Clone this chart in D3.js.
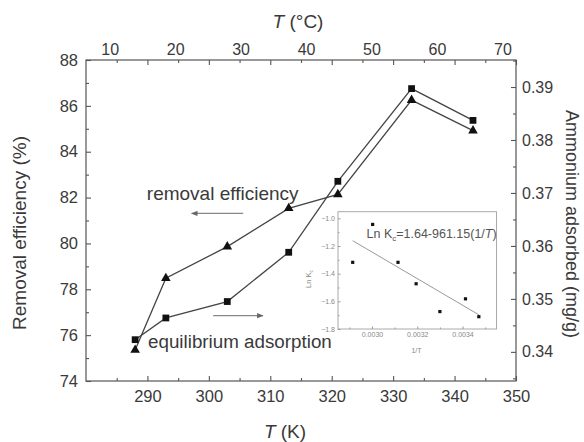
<!DOCTYPE html>
<html>
<head>
<meta charset="utf-8">
<script src="https://cdn.jsdelivr.net/npm/d3@7"></script>
<style>
  body { margin: 0; background: #fff; }
  text { font-family: Arial, "Liberation Sans", sans-serif; }
</style>
</head>
<body>
<svg id="chart" width="584" height="442"></svg>
<script>
// data
const tempK = [288, 293, 303, 313, 321, 333, 343];
const removal = [75.35, 78.48, 79.86, 81.53, 82.14, 86.25, 84.92];
const adsorbed = [0.3423, 0.3464, 0.3495, 0.3588, 0.3722, 0.3897, 0.3837];

// inset: van't Hoff plot
const invT = [0.003472, 0.003413, 0.0033, 0.003195, 0.003115, 0.003003, 0.002915];
const lnKc = [-1.711, -1.582, -1.674, -1.473, -1.318, -1.044, -1.318];
const fitCoef = [1.64, -961.15]; // Ln Kc = a + b (1/T)

const kTicks = [290, 300, 310, 320, 330, 340, 350];
const cTicks = [10, 20, 30, 40, 50, 60, 70];
const leftTicks = [74, 76, 78, 80, 82, 84, 86, 88];
const rightTicks = [0.34, 0.35, 0.36, 0.37, 0.38, 0.39];
const insetXTicks = [0.0030, 0.0032, 0.0034];
const insetYTicks = [-1.0, -1.2, -1.4, -1.6, -1.8];

const svg = d3.select("#chart");
const L = 86, R = 516, T = 60, B = 381;
const ink = "#3a3a3a";

const x = d3.scaleLinear().domain([280, 350]).range([L, R]);
const xC = d3.scaleLinear().domain([6.3, 72]).range([L, R]); // top labels sit off the kelvin ticks
const yL = d3.scaleLinear().domain([74, 88]).range([B, T]);
const yR = d3.scaleLinear().domain([0.3345, 0.3951]).range([B, T]);

function styleAxis(g, size) {
  g.select(".domain").remove();
  g.selectAll("line").attr("stroke", "#555").attr("stroke-width", 1.1);
  g.selectAll("text").attr("fill", ink).style("font-size", size + "px");
}

// bottom
svg.append("g").attr("transform", `translate(0,${B})`)
  .call(d3.axisBottom(x).tickValues(kTicks).tickSize(-5).tickPadding(9.5))
  .call(g => styleAxis(g, 16.5));
svg.append("g").attr("transform", `translate(0,${B})`)
  .call(d3.axisBottom(x).tickValues(d3.range(285, 350, 10)).tickSize(-3).tickFormat(""))
  .call(g => styleAxis(g, 16));

// top
svg.append("g").attr("transform", `translate(0,${T})`)
  .call(d3.axisTop(x).tickValues(kTicks).tickSize(-5).tickFormat(""))
  .call(g => styleAxis(g, 16));
svg.append("g").attr("transform", `translate(0,${T})`)
  .call(d3.axisTop(x).tickValues(d3.range(285, 350, 10)).tickSize(-3).tickFormat(""))
  .call(g => styleAxis(g, 16));
svg.append("g").selectAll("text").data(cTicks).join("text")
  .attr("x", d => xC(d)).attr("y", T - 5)
  .attr("text-anchor", "middle").attr("fill", ink)
  .style("font-size", "16px").text(d => d);

// left
svg.append("g").attr("transform", `translate(${L},0)`)
  .call(d3.axisLeft(yL).tickValues(leftTicks).tickSize(-5).tickPadding(8))
  .call(g => styleAxis(g, 16.5));
svg.append("g").attr("transform", `translate(${L},0)`)
  .call(d3.axisLeft(yL).tickValues(d3.range(75, 88, 2)).tickSize(-3).tickFormat(""))
  .call(g => styleAxis(g, 16));

// right
svg.append("g").attr("transform", `translate(${R},0)`)
  .call(d3.axisRight(yR).tickValues(rightTicks).tickSize(-5).tickPadding(6).tickFormat(d3.format(".2f")))
  .call(g => styleAxis(g, 16));
svg.append("g").attr("transform", `translate(${R},0)`)
  .call(d3.axisRight(yR).tickValues([0.335, 0.345, 0.355, 0.365, 0.375, 0.385, 0.395]).tickSize(-3).tickFormat(""))
  .call(g => styleAxis(g, 16));

// frame
svg.append("rect").attr("x", L).attr("y", T).attr("width", R - L).attr("height", B - T)
  .attr("fill", "none").attr("stroke", "#555").attr("stroke-width", 1.2);

// axis titles
const tTop = svg.append("text").attr("x", 298).attr("y", 28).attr("text-anchor", "middle")
  .attr("fill", ink).style("font-size", "19px");
tTop.append("tspan").attr("font-style", "italic").text("T");
tTop.append("tspan").text(" (°C)");

const tBot = svg.append("text").attr("x", 285).attr("y", 438).attr("text-anchor", "middle")
  .attr("fill", ink).style("font-size", "19px");
tBot.append("tspan").attr("font-style", "italic").text("T");
tBot.append("tspan").text(" (K)");

svg.append("text").attr("transform", "translate(26,233) rotate(-90)")
  .attr("text-anchor", "middle").attr("fill", ink).style("font-size", "19px")
  .text("Removal efficiency (%)");
svg.append("text").attr("transform", "translate(566,224) rotate(90)")
  .attr("text-anchor", "middle").attr("fill", ink).style("font-size", "18px")
  .text("Ammonium adsorbed (mg/g)");

// series
const pts = tempK.map((t, i) => ({ t, r: removal[i], a: adsorbed[i] }));
svg.append("path").datum(pts)
  .attr("d", d3.line().x(d => x(d.t)).y(d => yL(d.r)))
  .attr("fill", "none").attr("stroke", "#444").attr("stroke-width", 1.3);
svg.append("path").datum(pts)
  .attr("d", d3.line().x(d => x(d.t)).y(d => yR(d.a)))
  .attr("fill", "none").attr("stroke", "#444").attr("stroke-width", 1.3);

svg.append("g").selectAll("path").data(pts).join("path")
  .attr("transform", d => `translate(${x(d.t)},${yL(d.r)})`)
  .attr("d", d3.symbol(d3.symbolTriangle, 40)).attr("fill", "#111");
svg.append("g").selectAll("path").data(pts).join("path")
  .attr("transform", d => `translate(${x(d.t)},${yR(d.a)})`)
  .attr("d", d3.symbol(d3.symbolSquare, 46)).attr("fill", "#111");

// annotations
const defs = svg.append("defs");
defs.append("marker").attr("id", "head").attr("viewBox", "0 0 10 10")
  .attr("refX", 9).attr("refY", 5).attr("markerWidth", 7).attr("markerHeight", 5)
  .attr("orient", "auto-start-reverse")
  .append("path").attr("d", "M0,1 L10,5 L0,9 Z").attr("fill", "#666");

svg.append("text").attr("x", x(289.9)).attr("y", yL(81.9)).attr("fill", ink)
  .style("font-size", "19px").text("removal efficiency");
svg.append("line").attr("x1", x(305.6)).attr("x2", x(297.2))
  .attr("y1", yL(81.31)).attr("y2", yL(81.31))
  .attr("stroke", "#888").attr("stroke-width", 1.3).attr("marker-end", "url(#head)");

svg.append("text").attr("x", x(290.1)).attr("y", yL(75.42)).attr("fill", ink)
  .style("font-size", "18.8px").text("equilibrium adsorption");
svg.append("line").attr("x1", x(300.7)).attr("x2", x(308.8))
  .attr("y1", yL(76.85)).attr("y2", yL(76.85))
  .attr("stroke", "#888").attr("stroke-width", 1.3).attr("marker-end", "url(#head)");

// inset
const iL = 338, iR = 496.5, iT = 211.7, iB = 329;
const xi = d3.scaleLinear().domain([0.00285, 0.00355]).range([iL, iR]);
const yi = d3.scaleLinear().domain([-1.8, -0.952]).range([iB, iT]);
const inset = svg.append("g");
inset.append("rect").attr("x", iL).attr("y", iT).attr("width", iR - iL).attr("height", iB - iT)
  .attr("fill", "#fff").attr("stroke", "#aaa").attr("stroke-width", 1);

function styleInset(g) {
  g.select(".domain").remove();
  g.selectAll("line").attr("stroke", "#999");
  g.selectAll("text").attr("fill", "#888").style("font-size", "7px");
}
inset.append("g").attr("transform", `translate(0,${iB})`)
  .call(d3.axisBottom(xi).tickValues(insetXTicks).tickSize(-2.5).tickPadding(3).tickFormat(d3.format(".4f")))
  .call(styleInset);
inset.append("g").attr("transform", `translate(0,${iB})`)
  .call(d3.axisBottom(xi).tickValues([0.0029, 0.0031, 0.0033, 0.0035]).tickSize(-1.5).tickFormat(""))
  .call(styleInset);
inset.append("g").attr("transform", `translate(${iL},0)`)
  .call(d3.axisLeft(yi).tickValues(insetYTicks).tickSize(-2.5).tickPadding(3).tickFormat(d3.format(".1f")))
  .call(styleInset);
inset.append("g").attr("transform", `translate(${iL},0)`)
  .call(d3.axisLeft(yi).tickValues([-1.1, -1.3, -1.5, -1.7]).tickSize(-1.5).tickFormat(""))
  .call(styleInset);

inset.append("text").attr("x", 416.5).attr("y", 353).attr("text-anchor", "middle")
  .attr("fill", "#888").style("font-size", "7px").text("1/T");
const yLab = inset.append("text").attr("transform", "translate(311,279) rotate(-90)")
  .attr("text-anchor", "middle").attr("fill", "#888").style("font-size", "7.5px");
yLab.append("tspan").text("Ln K");
yLab.append("tspan").attr("dy", 2).style("font-size", "5px").text("c");

const xEnds = d3.extent(invT);
inset.append("line")
  .attr("x1", xi(xEnds[0])).attr("y1", yi(fitCoef[0] + fitCoef[1] * xEnds[0]))
  .attr("x2", xi(xEnds[1])).attr("y2", yi(fitCoef[0] + fitCoef[1] * xEnds[1]))
  .attr("stroke", "#999").attr("stroke-width", 1);

inset.append("g").selectAll("rect").data(invT).join("rect")
  .attr("x", d => xi(d) - 1.6).attr("y", (d, i) => yi(lnKc[i]) - 1.6)
  .attr("width", 3.2).attr("height", 3.2).attr("fill", "#111");

const eq = inset.append("text").attr("x", 366.5).attr("y", 238)
  .attr("fill", "#555").style("font-size", "12.5px");
eq.append("tspan").text("Ln K");
eq.append("tspan").attr("dy", 3).style("font-size", "8px").text("c");
eq.append("tspan").attr("dy", -3).text("=1.64-961.15(1/");
eq.append("tspan").attr("font-style", "italic").text("T");
eq.append("tspan").text(")");
</script>
</body>
</html>
